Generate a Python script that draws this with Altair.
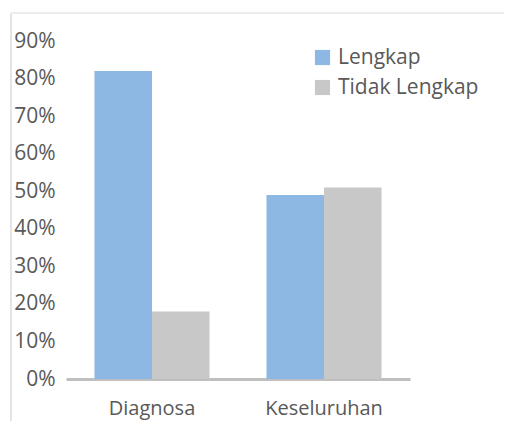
import altair as alt
import pandas as pd

categories = ["Diagnosa", "Diagnosa", "Keseluruhan", "Keseluruhan"]
series = ["Lengkap", "Tidak Lengkap", "Lengkap", "Tidak Lengkap"]
values = [0.82, 0.18, 0.49, 0.51]
y_ticks = [0, 0.1, 0.2, 0.3, 0.4, 0.5, 0.6, 0.7, 0.8, 0.9]

df = pd.DataFrame({"kategori": categories, "status": series, "nilai": values})

FONT = "Open Sans"
TXT = "#595959"

bars = alt.Chart(df).mark_bar(strokeWidth=0).encode(
    x=alt.X("kategori:N", sort=["Diagnosa", "Keseluruhan"],
            scale=alt.Scale(paddingInner=0.331, paddingOuter=0.1655),
            axis=alt.Axis(title=None, labelAngle=0, labelFont=FONT, labelFontSize=20,
                          labelColor=TXT, labelPadding=19, ticks=False,
                          domainColor="#BFBFBF", domainWidth=3)),
    xOffset=alt.XOffset("status:N", sort=["Lengkap", "Tidak Lengkap"],
                        scale=alt.Scale(paddingInner=0, paddingOuter=0)),
    y=alt.Y("nilai:Q", scale=alt.Scale(domain=[0, 0.9], nice=False),
            axis=alt.Axis(title=None, values=y_ticks, format=".0%", grid=False,
                          domain=False, ticks=False, labelFont=FONT, labelFontSize=21,
                          labelColor=TXT, labelPadding=11)),
    color=alt.Color("status:N", sort=["Lengkap", "Tidak Lengkap"],
                    scale=alt.Scale(domain=["Lengkap", "Tidak Lengkap"],
                                    range=["#8DB8E4", "#C8C8C8"]),
                    legend=alt.Legend(title=None, orient="none", legendX=246, legendY=6,
                                      symbolType="square", symbolSize=230,
                                      symbolStrokeWidth=0, labelFont=FONT,
                                      labelFontSize=21, labelColor=TXT,
                                      rowPadding=8, labelOffset=5)),
)

border_left = alt.Chart(df).mark_rule(color="#E3E3E3", strokeWidth=1).encode(
    x=alt.value(-55), y=alt.value(-28), y2=alt.value(380)
)
border_top = alt.Chart(df).mark_rule(color="#EBEBEB", strokeWidth=1).encode(
    x=alt.value(-55), x2=alt.value(450), y=alt.value(-28)
)

chart = alt.layer(border_left, border_top, bars).properties(
    width=344, height=338,
    background="white",
    autosize=alt.AutoSizeParams(type="none"),
    padding={"left": 58, "top": 33, "right": 94, "bottom": 42},
).configure_view(strokeWidth=0, stroke="transparent")

chart.save("out.html", embed_options={"renderer": "svg", "actions": False})
